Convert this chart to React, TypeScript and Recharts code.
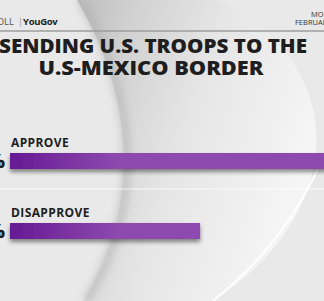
import { BarChart, Bar, XAxis, YAxis, LabelList } from "recharts"

const categories = ["APPROVE", "DISAPPROVE"]
const percents = [64, 36]

const data = categories.map((name, i) => ({ name, value: percents[i] }))

const W = 324
const H = 301

function NameLabel(props: any) {
  const { x, y, value } = props
  return (
    <text
      x={x + 1}
      y={y - 6}
      fill="#1d1d1d"
      fontFamily="'Open Sans', sans-serif"
      fontWeight={700}
      fontSize={12}
      letterSpacing={0.4}
    >
      {value}
    </text>
  )
}

function PctLabel(props: any) {
  const { x, y, height, value } = props
  return (
    <text
      x={x - 5}
      y={y + height / 2 + 7}
      textAnchor="end"
      fill="#1d1d1d"
      fontFamily="'Open Sans', sans-serif"
      fontWeight={800}
      fontSize={20}
    >
      {value}%
    </text>
  )
}

function Backdrop() {
  return (
    <svg width={W} height={H} style={{ position: "absolute", left: 0, top: 0 }}>
      <defs>
        <linearGradient id="swoosh" x1="0" y1="0" x2="1" y2="0.4">
          <stop offset="0" stopColor="#bcbcbc" />
          <stop offset="0.2" stopColor="#d0d0d0" />
          <stop offset="0.55" stopColor="#e6e6e6" />
          <stop offset="1" stopColor="#f5f5f5" />
        </linearGradient>
        <filter id="soft" x="-20%" y="-20%" width="140%" height="140%">
          <feGaussianBlur stdDeviation={4} />
        </filter>
      </defs>
      <rect width={W} height={H} fill="#e9e9e9" />
      <path
        d="M77,0 C130,90 145,200 83,301 L213,301 C340,220 360,70 217,0 Z"
        fill="url(#swoosh)"
      />
      <path
        d="M80,0 C133,90 148,200 86,301"
        stroke="#b0b0b0"
        strokeWidth={6}
        fill="none"
        filter="url(#soft)"
        opacity={0.8}
      />
      <path d="M326,150 Q290,240 213,301" stroke="#ffffff" strokeWidth={2} fill="none" opacity={0.95} />
      <line x1={0} y1={31} x2={W} y2={31} stroke="#9c9c9c" strokeWidth={1.5} />
      <line x1={0} y1={189} x2={W} y2={189} stroke="#ffffff" strokeWidth={1} opacity={0.8} />

      <text x={14} y={25} textAnchor="end" fill="#555" fontFamily="'Open Sans', sans-serif" fontSize={9.5}>
        CBS NEWS POLL
      </text>
      <text x={18} y={25} fill="#999" fontFamily="'Open Sans', sans-serif" fontSize={9}>|</text>
      <text x={23} y={25} fill="#222" fontFamily="'Open Sans', sans-serif" fontWeight={700} fontSize={9.5} letterSpacing={-0.3}>
        YouGov
      </text>
      <text x={311} y={17} fill="#333" fontFamily="'Open Sans', sans-serif" fontSize={7.5}>MONDAY</text>
      <text x={295} y={25} fill="#333" fontFamily="'Open Sans', sans-serif" fontSize={7.5}>FEBRUARY 10, 2025</text>

      <text
        x={153}
        y={53}
        textAnchor="middle"
        fill="#1e1e1e"
        fontFamily="'Open Sans', sans-serif"
        fontWeight={800}
        fontSize={20}
        textLength={308}
        lengthAdjust="spacingAndGlyphs"
      >
        SENDING U.S. TROOPS TO THE
      </text>
      <text
        x={151}
        y={75}
        textAnchor="middle"
        fill="#1e1e1e"
        fontFamily="'Open Sans', sans-serif"
        fontWeight={800}
        fontSize={20}
        textLength={225}
        lengthAdjust="spacingAndGlyphs"
      >
        U.S-MEXICO BORDER
      </text>
    </svg>
  )
}

export default function App() {
  return (
    <div
      style={{
        position: "fixed",
        left: 0,
        top: 0,
        width: W,
        height: H,
        overflow: "hidden",
        background: "#e9e9e9",
      }}
    >
      <Backdrop />
      <div style={{ position: "absolute", left: 0, top: 0 }}>
        <BarChart
          width={360}
          height={H}
          data={data}
          layout="vertical"
          margin={{ top: 126, right: 12, bottom: 35, left: 10 }}
          barSize={16}
        >
          <defs>
            <linearGradient id="barFill" gradientUnits="userSpaceOnUse" x1={10} y1={0} x2={120} y2={0}>
              <stop offset="0" stopColor="#651a93" />
              <stop offset="1" stopColor="#8e4aaf" />
            </linearGradient>
            <filter id="barShadow" x="-5%" y="-50%" width="110%" height="250%">
              <feDropShadow dx={0} dy={3} stdDeviation={2} floodColor="#000" floodOpacity={0.45} />
            </filter>
          </defs>
          <XAxis type="number" domain={[0, 64]} hide />
          <YAxis type="category" dataKey="name" hide />
          <Bar dataKey="value" fill="url(#barFill)" filter="url(#barShadow)" isAnimationActive={false}>
            <LabelList dataKey="name" content={<NameLabel />} />
            <LabelList dataKey="value" content={<PctLabel />} />
          </Bar>
        </BarChart>
      </div>
    </div>
  )
}
